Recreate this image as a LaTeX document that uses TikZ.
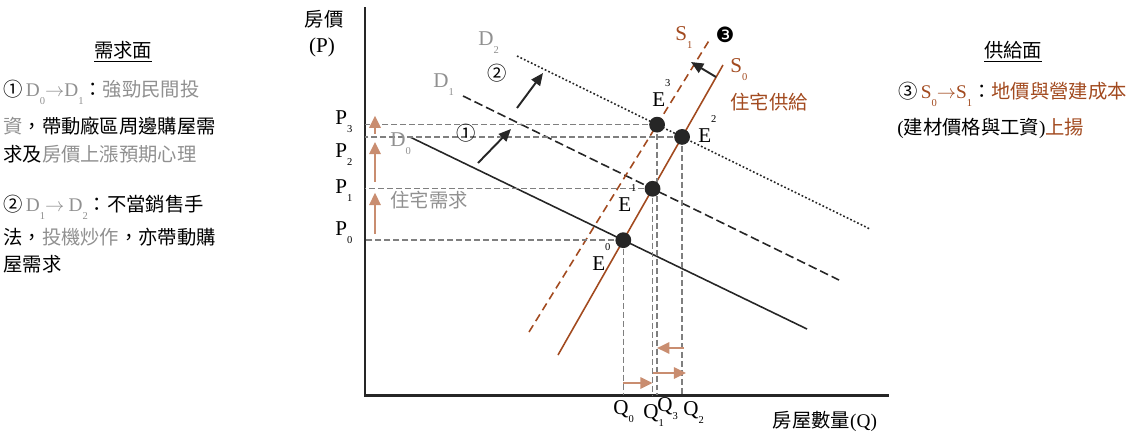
\documentclass[tikz,border=0pt]{standalone}
\usepackage{fontspec}
\setmainfont{Liberation Serif}
\newfontfamily\cjk{Noto Sans CJK TC}
\newfontfamily\dings{DejaVu Sans}
\usepackage{tikz}
\usetikzlibrary{arrows.meta,positioning,calc,intersections}
\definecolor{brn}{HTML}{A24A1F}
\definecolor{arrtan}{HTML}{C98D70}
\definecolor{txtgray}{HTML}{909090}
\definecolor{gline}{HTML}{7F7F7F}
\newcommand\lo[2]{{\rmfamily#1}\raisebox{-5pt}{\rmfamily\fontsize{6}{6}\selectfont#2}}
\newcommand\hi[2]{{\rmfamily#1}\raisebox{11pt}{\rmfamily\fontsize{6}{6}\selectfont#2}}

\begin{document}
\begin{tikzpicture}[x=0.02cm,y=-0.02cm,
 ax/.style={line width=1.7pt,black!85},
 dm/.style={line width=0.9pt,black!85},
 sp/.style={line width=0.9pt,brn},
 gd/.style={gline,line width=0.8pt,dash pattern=on 3.4pt off 1.7pt},
 rise/.style={arrtan,line width=1.1pt,-{Triangle[length=7pt,width=6.5pt]}},
 mv/.style={black!85,line width=1.1pt,-{Triangle[length=7pt,width=6pt]}},
 eqdot/.style={circle,fill=black!85,inner sep=0pt,minimum size=9pt},
 txt/.style={font=\cjk\fontsize{11}{13}\selectfont,inner sep=0pt},
 lbl/.style={font=\fontsize{12}{13}\selectfont,inner sep=0pt,anchor=base west}]
 \useasboundingbox (0,0) rectangle (1140,434);
 % left text
 \node[txt] (hd) at (123,52) {\underline{需求面}};
 \node[txt,anchor=base west] (l1) at (3,96) {①\,\textcolor{txtgray}{\lo{D}{0}$\rightarrow$\lo{D}{1}}：\textcolor{txtgray}{強勁民間投}};
 \node[txt,anchor=base west] (l2) at (3,133) {\textcolor{txtgray}{資}，帶動廠區周邊購屋需};
 \node[txt,anchor=base west] (l3) at (3,161) {求及\textcolor{txtgray}{房價上漲預期心理}};
 \node[txt,anchor=base west] (l4) at (3,211) {②\,\textcolor{txtgray}{\lo{D}{1}$\rightarrow$\ \lo{D}{2}}：不當銷售手};
 \node[txt,anchor=base west] (l5) at (3,244) {法，\textcolor{txtgray}{投機炒作}，亦帶動購};
 \node[txt,anchor=base west] (l6) at (3,271) {屋需求};
 % right text
 \node[txt] (hs) at (1013,52) {\underline{供給面}};
 \node[txt,anchor=base west] (r1) at (898,98) {③\,\textcolor{brn}{\lo{S}{0}$\rightarrow$\lo{S}{1}}：\textcolor{brn}{地價與營建成本}};
 \node[txt,anchor=base west] (r2) at (897,134) {{\rmfamily(}建材價格與工資{\rmfamily)}\textcolor{brn}{上揚}};
 % axes
 \coordinate (O) at (365,395);
 \draw[ax] (365,7) -- (O) -- (889,395);
 \node[txt] (pl) at (324,19) {房價};
 \node[lbl,anchor=center] (pp) at (322,47) {(P)};
 \node[txt] (ql) at (825,421) {房屋數量{\rmfamily(Q)}};
 % demand and supply
 \draw[dm,name path=d0] (410,137) -- (807,329);
 \draw[dm,name path=d1,dash pattern=on 5pt off 2.3pt] (463,96) -- (839,280);
 \draw[dm,name path=d2,dash pattern=on 1pt off 1.2pt] (517,56) -- (870,229);
 \draw[sp,name path=s0] (558,355) -- (723,65);
 \draw[sp,name path=s1,dash pattern=on 4.5pt off 2.8pt] (529,332) -- (710,39);
 \path[name intersections={of=d0 and s0,by=E0}];
 \path[name intersections={of=d1 and s0,by=E1}];
 \path[name intersections={of=d2 and s0,by=E2}];
 \path[name intersections={of=d2 and s1,by=E3}];
 \foreach \i in {0,...,3}{
  \draw[gd] (E\i) -- (E\i -| O);
  \draw[gd] (E\i) -- (E\i |- O);
 }
 \foreach \i in {0,...,3} \node[eqdot] (e\i) at (E\i) {};
 % labels
 \node[lbl] (p3) at (335,124) {\lo{P}{3}};
 \node[lbl] (p2) at (335,157) {\lo{P}{2}};
 \node[lbl] (p1) at (335,193) {\lo{P}{1}};
 \node[lbl] (p0) at (335,235) {\lo{P}{0}};
 \node[lbl] (q0) at (613,414) {\lo{Q}{0}};
 \node[lbl] (q1) at (643,418) {\lo{Q}{1}};
 \node[lbl] (q3) at (657,411) {\lo{Q}{3}};
 \node[lbl] (q2) at (683,415) {\lo{Q}{2}};
 \node[lbl,txtgray] (dl2) at (478,45) {\lo{D}{2}};
 \node[lbl,txtgray] (dl1) at (433,87) {\lo{D}{1}};
 \node[lbl,txtgray] (dl0) at (390,146) {\lo{D}{0}};
 \node[lbl,brn] (sl1) at (675,40) {\lo{S}{1}};
 \node[lbl,brn] (sl0) at (730,72) {\lo{S}{0}};
 \node[lbl] (el3) at (652,106) {\hi{E}{3}};
 \node[lbl] (el2) at (698,142) {\hi{E}{2}};
 \node[lbl] (el1) at (618,211) {\hi{E}{1}};
 \node[lbl] (el0) at (592,270) {\hi{E}{0}};
 \node[txt,txtgray] (dq) at (429,200) {住宅需求};
 \node[txt,brn] (sq) at (769,102) {住宅供給};
 \node[txt] (n1) at (466,133) {①};
 \node[txt] (n2) at (497,73) {②};
 \node[font=\dings\fontsize{12}{12}\selectfont,inner sep=0pt] (n3) at (725,35) {❸};
 % shifts
 \draw[mv] (478,163) coordinate (a1) -- (511,129) coordinate (b1);
 \draw[mv] (517,108) coordinate (a2) -- (543,73) coordinate (b2);
 \draw[mv] (716,77) coordinate (a3) -- (691,62) coordinate (b3);
 \draw[rise] ($(E0-|O)+(10,-6)$) -- ($(E1-|O)+(10,4)$);
 \draw[rise] ($(E1-|O)+(10,-7)$) -- ($(E2-|O)+(10,5)$);
 \draw[rise] ($(E2-|O)+(10,-3)$) -- ($(E3-|O)+(10,-9)$);
 \draw[rise] ($(E0|-O)+(0,-12)$) -- ($(E1|-O)+(0,-12)$);
 \draw[rise] ($(E1|-O)+(0,-22)$) -- ($(E2|-O)+(4,-22)$);
 \draw[rise] ($(E2|-O)+(2,-47)$) -- ($(E3|-O)+(0,-47)$);
\end{tikzpicture}
\end{document}
